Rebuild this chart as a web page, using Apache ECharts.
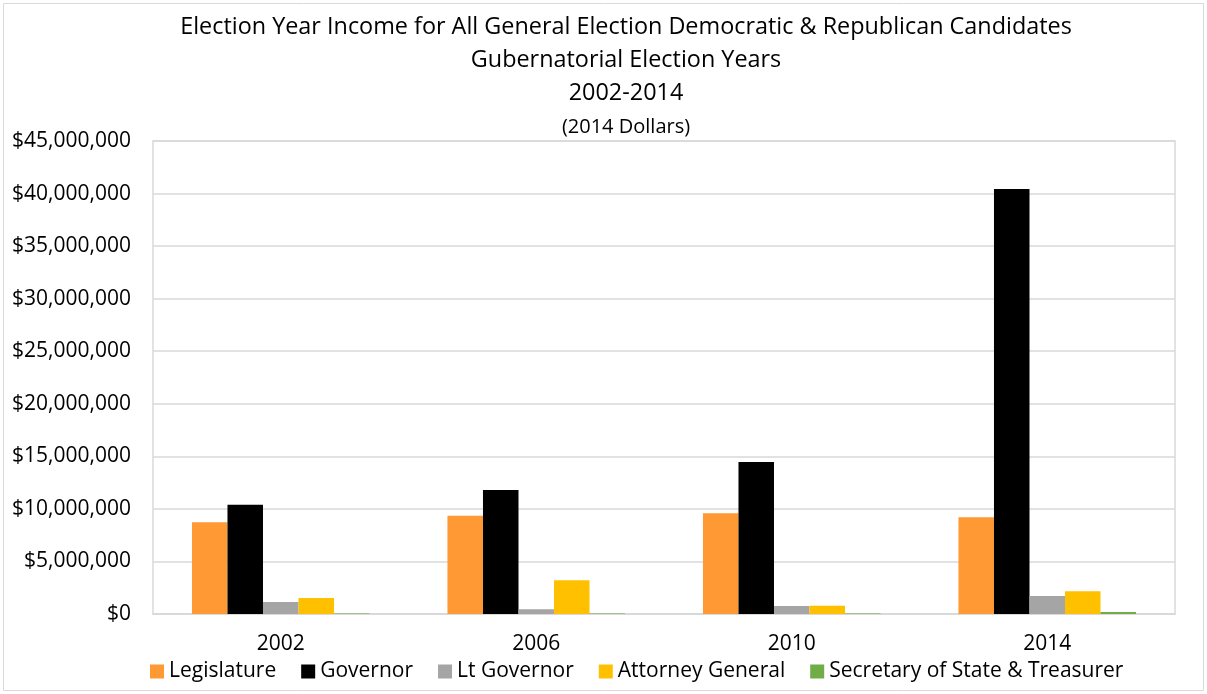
<!DOCTYPE html>
<html><head><meta charset="utf-8">
<script src="https://cdn.jsdelivr.net/npm/echarts@6/dist/echarts.min.js"></script>
<style>html,body{margin:0;padding:0;background:#fff}#c{width:1207px;height:694px}</style>
</head><body><div id="c"></div>
<script>
const categories = ['2002', '2006', '2010', '2014'];
const legislature = [8730000, 9350000, 9580000, 9200000];
const governor = [10400000, 11800000, 14460000, 40440000];
const ltGovernor = [1140000, 450000, 760000, 1710000];
const attorneyGeneral = [1520000, 3200000, 790000, 2160000];
const secretaryTreasurer = [50000, 50000, 50000, 190000];
const seriesNames = ['Legislature', 'Governor', 'Lt Governor', 'Attorney General', 'Secretary of State & Treasurer'];
const seriesData = [legislature, governor, ltGovernor, attorneyGeneral, secretaryTreasurer];
const colors = ['#ff9933', '#000000', '#a5a5a5', '#ffc000', '#70ad47'];
const titleLines = ['Election Year Income for All General Election Democratic & Republican Candidates', 'Gubernatorial Election Years', '2002-2014', '(2014 Dollars)'];

const font = '"Open Sans", "Noto Sans", sans-serif';
const chart = echarts.init(document.getElementById('c'));
const titleYs = [27, 60, 93, 127];
const titleSizes = [23.4, 23.4, 23.4, 20];
const titleGraphics = titleLines.map((t, i) => ({
  type: 'text', x: 626, y: titleYs[i], silent: true,
  style: { text: t, fontFamily: font, fontSize: titleSizes[i], fill: '#000', align: 'center', verticalAlign: 'middle' }
}));
chart.setOption({
  animation: false,
  color: colors,
  graphic: [{ type: 'rect', shape: { x: 3.5, y: 3.5, width: 1200, height: 687 }, style: { fill: 'none', stroke: '#d9d9d9', lineWidth: 1 }, silent: true }].concat(titleGraphics),
  grid: { left: 153, right: 32, top: 141, bottom: 80, show: true, borderColor: '#d9d9d9', borderWidth: 1.5 },
  legend: {
    bottom: 7, left: 145, itemWidth: 14, itemHeight: 14, itemGap: 25,
    icon: 'rect',
    textStyle: { fontFamily: font, fontSize: 21, color: '#000', padding: [0, 0, 0, 0] },
    data: seriesNames
  },
  xAxis: {
    type: 'category', data: categories,
    axisLine: { show: true, lineStyle: { color: '#d9d9d9', width: 1.5 } },
    axisTick: { show: false },
    axisLabel: { fontFamily: font, fontSize: 21, color: '#000', margin: 20 }
  },
  yAxis: {
    type: 'value', min: 0, max: 45000000, interval: 5000000,
    axisLine: { show: false }, axisTick: { show: false },
    splitLine: { lineStyle: { color: '#d9d9d9', width: 1.5 } },
    axisLabel: { fontFamily: font, fontSize: 21, color: '#000', margin: 22,
      formatter: v => '$' + v.toLocaleString('en-US') }
  },
  series: seriesData.map((d, i) => ({
    name: seriesNames[i], type: 'bar', data: d,
    barGap: '0%', barCategoryGap: '30.5%'
  }))
});
</script></body></html>
